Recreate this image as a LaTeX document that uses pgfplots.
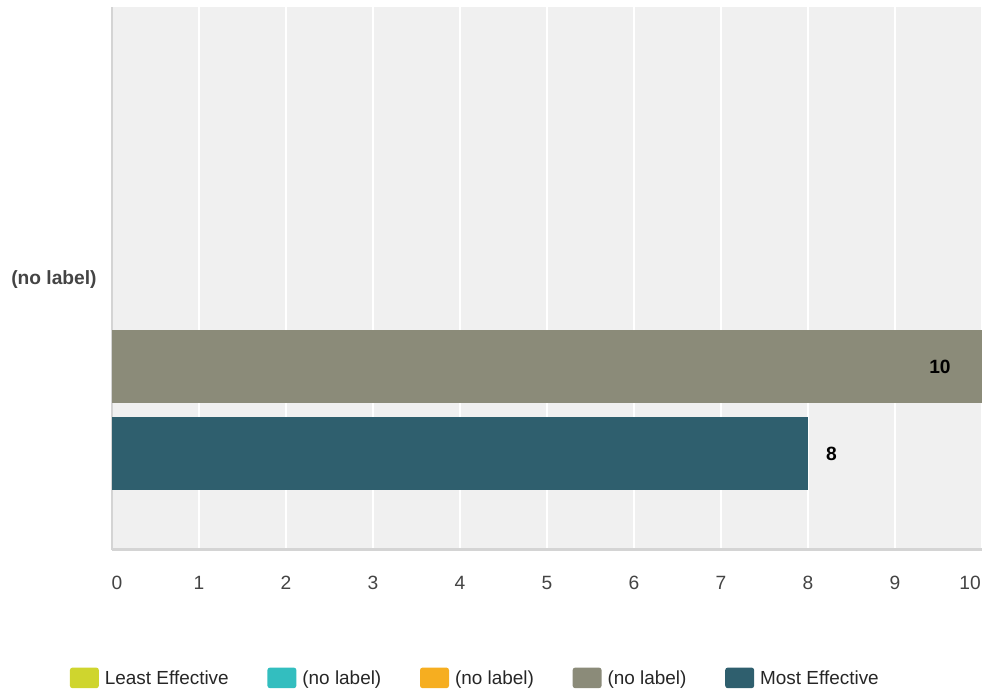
\documentclass[border=0pt]{standalone}
\usepackage{fontspec}
\setmainfont{Liberation Sans}
\usepackage{pgfplots}
\pgfplotsset{compat=1.18}

\definecolor{cLeast}{HTML}{CFD52E}
\definecolor{cTeal}{HTML}{33BEBF}
\definecolor{cOrange}{HTML}{F6AE20}
\definecolor{cGray}{HTML}{8B8B79}
\definecolor{cMost}{HTML}{2F5F6E}
\definecolor{bgc}{HTML}{F0F0F0}
\definecolor{axc}{HTML}{D4D4D4}
\definecolor{tickc}{HTML}{444444}

\pgfplotsset{
  mybar/.style={xbar, bar width=0.839, bar shift=0pt, draw=none, fill=#1,
    legend image code/.code={\fill[fill=#1, rounded corners=2pt] (0pt,-7.5pt) rectangle (21.75pt,8pt);}},
  % zero-length bars: no fill sliver on the axis line
  nobar/.style={fill=none},
}

\begin{document}
\begin{tikzpicture}
\useasboundingbox (-84pt,-105.75pt) rectangle (654pt,412.5pt);
\begin{axis}[
  scale only axis, width=652.5pt, height=407.25pt,
  xmin=0, xmax=10, ymin=0, ymax=6.241,
  axis background/.style={fill=bgc},
  xmajorgrids, grid style={white, line width=1.5pt},
  xtick={0,1,2,3,4,5,6,7,8,9,10},
  xticklabels={\hspace*{7.5pt}0,1,2,3,4,5,6,7,8,9,10\hspace*{18pt}},
  ytick={3.109}, yticklabels={\bfseries (no label)},
  major tick length=0pt,
  axis x line*=bottom, axis y line*=left,
  x axis line style={draw=axc, line width=2.25pt, -},
  y axis line style={draw=axc, line width=1.5pt, -},
  tick label style={font=\fontsize{14.4}{17}\selectfont, text=tickc},
  xticklabel style={yshift=-16pt},
  yticklabel style={xshift=-8pt},
  /pgf/number format/assume math mode=true,
  legend columns=5,
  legend style={at={(0.418,-0.236)}, anchor=center, draw=none, fill=none,
    font=\fontsize{14.2}{17}\selectfont, text=black!85,
    /tikz/every odd column/.append style={column sep=2.5pt},
    /tikz/every even column/.append style={column sep=27pt}},
]
\addplot[mybar=cLeast, nobar] coordinates {(0,5.109)};
\addlegendentry{Least Effective}
\addplot[mybar=cTeal, nobar] coordinates {(0,4.109)};
\addlegendentry{(no label)}
\addplot[mybar=cOrange, nobar] coordinates {(0,3.109)};
\addlegendentry{(no label)}
\addplot[mybar=cGray, nodes near coords={\bfseries\pgfmathprintnumber{\pgfplotspointmeta}},
  every node near coord/.append style={anchor=east, xshift=-20pt, text=black, font=\fontsize{14.4}{17}\selectfont}]
  coordinates {(10,2.109)};
\addlegendentry{(no label)}
\addplot[mybar=cMost, nodes near coords={\bfseries\pgfmathprintnumber{\pgfplotspointmeta}},
  every node near coord/.append style={anchor=west, xshift=10pt, text=black, font=\fontsize{14.4}{17}\selectfont}]
  coordinates {(8,1.109)};
\addlegendentry{Most Effective}
\end{axis}
\end{tikzpicture}
\end{document}
